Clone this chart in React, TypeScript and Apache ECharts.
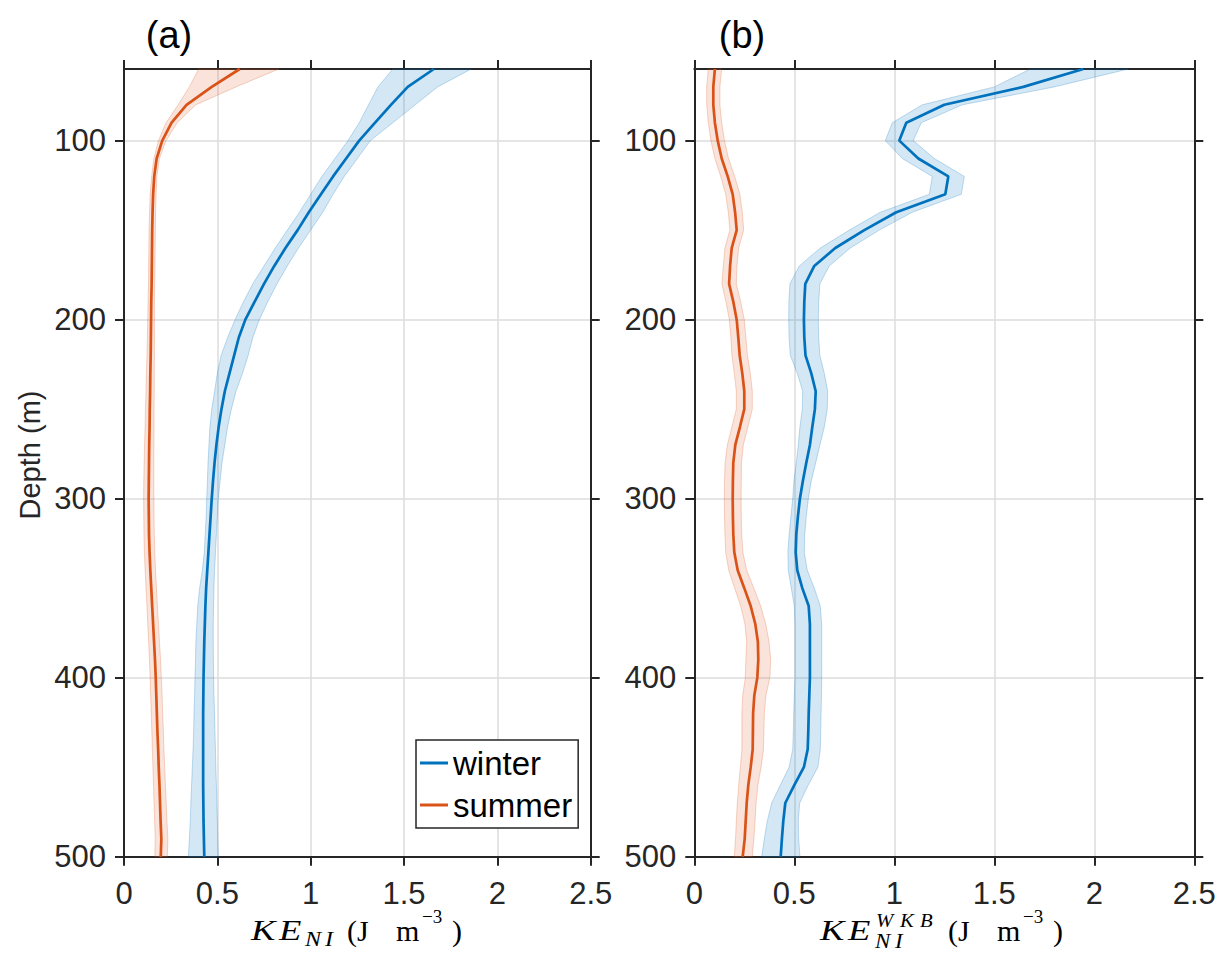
import React, { useEffect, useRef } from "react";
import * as echarts from "echarts";

const DEPTHS = [60, 70, 80, 90, 100, 110, 120, 130, 140, 150, 160, 170, 180, 190, 200, 210, 220, 230, 240, 250, 260, 270, 280, 290, 300, 310, 320, 330, 340, 350, 360, 370, 380, 390, 400, 410, 420, 430, 440, 450, 460, 470, 480, 490, 500];
const Y_TICKS = [100, 200, 300, 400, 500];

// Panel (a): KE_NI
const winterA = [1.66, 1.52, 1.43, 1.345, 1.26, 1.19, 1.12, 1.055, 0.99, 0.93, 0.865, 0.805, 0.75, 0.70, 0.65, 0.615, 0.59, 0.565, 0.54, 0.522, 0.507, 0.495, 0.485, 0.477, 0.47, 0.464, 0.458, 0.452, 0.446, 0.44, 0.436, 0.433, 0.43, 0.428, 0.426, 0.425, 0.424, 0.424, 0.424, 0.424, 0.424, 0.425, 0.426, 0.428, 0.43];
const winterALo = [1.44, 1.36, 1.31, 1.26, 1.20, 1.13, 1.06, 1.00, 0.94, 0.875, 0.81, 0.75, 0.69, 0.64, 0.595, 0.555, 0.52, 0.50, 0.485, 0.47, 0.46, 0.455, 0.45, 0.447, 0.443, 0.44, 0.435, 0.43, 0.42, 0.405, 0.395, 0.39, 0.385, 0.383, 0.38, 0.378, 0.375, 0.373, 0.37, 0.366, 0.362, 0.358, 0.355, 0.35, 0.345];
const winterAHi = [1.86, 1.68, 1.56, 1.44, 1.32, 1.25, 1.18, 1.12, 1.065, 1.0, 0.935, 0.875, 0.82, 0.77, 0.725, 0.69, 0.665, 0.635, 0.60, 0.575, 0.555, 0.54, 0.525, 0.515, 0.505, 0.5, 0.495, 0.49, 0.485, 0.482, 0.48, 0.478, 0.478, 0.479, 0.48, 0.482, 0.485, 0.487, 0.49, 0.492, 0.495, 0.497, 0.5, 0.502, 0.505];
const summerA = [0.62, 0.47, 0.335, 0.255, 0.205, 0.175, 0.162, 0.156, 0.153, 0.151, 0.15, 0.149, 0.148, 0.146, 0.145, 0.144, 0.143, 0.141, 0.14, 0.138, 0.137, 0.135, 0.134, 0.133, 0.132, 0.133, 0.134, 0.137, 0.141, 0.146, 0.151, 0.156, 0.161, 0.166, 0.17, 0.173, 0.176, 0.179, 0.183, 0.186, 0.19, 0.193, 0.196, 0.2, 0.197];
const summerALo = [0.40, 0.35, 0.29, 0.225, 0.185, 0.16, 0.148, 0.14, 0.137, 0.134, 0.133, 0.132, 0.131, 0.129, 0.127, 0.125, 0.123, 0.12, 0.118, 0.115, 0.113, 0.11, 0.108, 0.106, 0.105, 0.106, 0.107, 0.109, 0.113, 0.118, 0.123, 0.127, 0.132, 0.136, 0.14, 0.143, 0.146, 0.149, 0.152, 0.155, 0.158, 0.161, 0.164, 0.167, 0.165];
const summerAHi = [0.83, 0.60, 0.385, 0.285, 0.225, 0.19, 0.176, 0.172, 0.169, 0.168, 0.167, 0.166, 0.165, 0.163, 0.163, 0.163, 0.163, 0.162, 0.162, 0.161, 0.161, 0.16, 0.16, 0.16, 0.16, 0.161, 0.162, 0.165, 0.169, 0.174, 0.179, 0.185, 0.19, 0.196, 0.2, 0.204, 0.207, 0.211, 0.214, 0.218, 0.222, 0.226, 0.23, 0.235, 0.232];

// Panel (b): KE_NI^WKB
const winterB = [1.945, 1.645, 1.25, 1.06, 1.025, 1.12, 1.27, 1.255, 1.01, 0.85, 0.705, 0.60, 0.555, 0.55, 0.548, 0.55, 0.556, 0.585, 0.607, 0.603, 0.59, 0.578, 0.56, 0.543, 0.528, 0.518, 0.51, 0.507, 0.515, 0.54, 0.572, 0.578, 0.578, 0.578, 0.578, 0.575, 0.572, 0.57, 0.567, 0.548, 0.50, 0.455, 0.445, 0.438, 0.432];
const winterBLo = [1.68, 1.50, 1.14, 0.99, 0.955, 1.04, 1.19, 1.175, 0.93, 0.775, 0.63, 0.525, 0.478, 0.473, 0.472, 0.474, 0.48, 0.515, 0.542, 0.54, 0.528, 0.52, 0.51, 0.498, 0.492, 0.483, 0.474, 0.468, 0.47, 0.485, 0.5, 0.503, 0.503, 0.503, 0.503, 0.5, 0.497, 0.495, 0.492, 0.474, 0.43, 0.387, 0.365, 0.35, 0.337];
const winterBHi = [2.17, 1.80, 1.34, 1.135, 1.095, 1.2, 1.35, 1.335, 1.09, 0.925, 0.78, 0.675, 0.628, 0.622, 0.62, 0.622, 0.628, 0.65, 0.667, 0.665, 0.65, 0.628, 0.607, 0.585, 0.57, 0.56, 0.552, 0.55, 0.565, 0.6, 0.63, 0.637, 0.637, 0.637, 0.637, 0.636, 0.634, 0.632, 0.63, 0.618, 0.57, 0.527, 0.52, 0.522, 0.528];
const summerB = [0.103, 0.095, 0.095, 0.103, 0.117, 0.137, 0.167, 0.192, 0.204, 0.212, 0.187, 0.179, 0.174, 0.195, 0.212, 0.22, 0.227, 0.24, 0.25, 0.25, 0.228, 0.205, 0.195, 0.193, 0.192, 0.193, 0.195, 0.2, 0.217, 0.25, 0.282, 0.305, 0.318, 0.32, 0.315, 0.3, 0.294, 0.293, 0.292, 0.282, 0.27, 0.262, 0.257, 0.252, 0.242];
const summerBLo = [0.07, 0.062, 0.062, 0.07, 0.083, 0.103, 0.132, 0.157, 0.17, 0.178, 0.153, 0.145, 0.138, 0.158, 0.175, 0.183, 0.188, 0.2, 0.21, 0.21, 0.188, 0.165, 0.154, 0.151, 0.15, 0.151, 0.153, 0.157, 0.172, 0.202, 0.232, 0.253, 0.262, 0.258, 0.255, 0.242, 0.238, 0.238, 0.238, 0.23, 0.222, 0.215, 0.21, 0.206, 0.2];
const summerBHi = [0.137, 0.128, 0.128, 0.137, 0.151, 0.171, 0.202, 0.228, 0.24, 0.247, 0.222, 0.213, 0.21, 0.232, 0.25, 0.258, 0.266, 0.28, 0.29, 0.29, 0.268, 0.245, 0.236, 0.235, 0.234, 0.235, 0.237, 0.243, 0.262, 0.298, 0.332, 0.357, 0.374, 0.382, 0.378, 0.358, 0.35, 0.348, 0.346, 0.334, 0.318, 0.309, 0.304, 0.298, 0.29];

const BLUE = "#0072BD";
const ORANGE = "#D95319";
const BLUE_FILL = "rgba(0,114,189,0.17)";
const BLUE_EDGE = "rgba(0,114,189,0.24)";
const ORANGE_FILL = "rgba(217,83,25,0.16)";
const ORANGE_EDGE = "rgba(217,83,25,0.24)";
const AXIS_COLOR = "#262626";
const GRID_COLOR = "#dcdcdc";
const SANS = "'Liberation Sans', Arial, Helvetica, sans-serif";
const SERIF = "'Liberation Serif', 'Times New Roman', serif";

function band(name: string, lo: number[], hi: number[], xi: number, yi: number, fill: string, stroke: string) {
  return {
    type: "custom",
    name,
    xAxisIndex: xi,
    yAxisIndex: yi,
    silent: true,
    z: 2,
    data: DEPTHS.map((d, i) => [lo[i], hi[i], d]),
    encode: { x: [0, 1], y: 2 },
    renderItem: (params: any, api: any) => {
      if (params.dataIndex !== 0) return null;
      const pts: number[][] = [];
      for (let i = 0; i < DEPTHS.length; i++) pts.push(api.coord([lo[i], DEPTHS[i]]));
      for (let i = DEPTHS.length - 1; i >= 0; i--) pts.push(api.coord([hi[i], DEPTHS[i]]));
      return { type: "polygon", shape: { points: pts }, style: { fill, stroke, lineWidth: 1 } };
    },
  };
}

function line(name: string, vals: number[], xi: number, yi: number, color: string) {
  return {
    type: "line",
    name,
    xAxisIndex: xi,
    yAxisIndex: yi,
    data: DEPTHS.map((d, i) => [vals[i], d]),
    symbol: "none",
    showSymbol: false,
    z: 3,
    color,
    lineStyle: { color, width: 2.7 },
  };
}

function xAxis(grid: number, pos: "top" | "bottom") {
  return {
    type: "value",
    gridIndex: grid,
    position: pos,
    min: 0,
    max: 2.5,
    interval: 0.5,
    axisLine: { show: true, onZero: false, lineStyle: { color: AXIS_COLOR, width: 2 } },
    axisTick: { show: true, inside: false, length: 9, lineStyle: { color: AXIS_COLOR, width: 2 } },
    axisLabel: {
      show: pos === "bottom",
      margin: 21,
      fontSize: 31,
      color: AXIS_COLOR,
      fontFamily: SANS,
    },
    splitLine: { show: pos === "bottom", lineStyle: { color: GRID_COLOR, width: 1.5 } },
  };
}

function yAxis(grid: number, pos: "left" | "right") {
  return {
    type: "value",
    gridIndex: grid,
    position: pos,
    inverse: true,
    min: 60,
    max: 500,
    splitNumber: 5,
    axisLine: { show: true, onZero: false, lineStyle: { color: AXIS_COLOR, width: 2 } },
    axisTick: { show: true, inside: false, length: 9, customValues: Y_TICKS, lineStyle: { color: AXIS_COLOR, width: 2 } },
    axisLabel: {
      show: pos === "left",
      customValues: Y_TICKS,
      margin: 18,
      fontSize: 31,
      color: AXIS_COLOR,
      fontFamily: SANS,
    },
    splitLine: { show: pos === "left", lineStyle: { color: GRID_COLOR, width: 1.5 } },
  };
}

function txt(text: string, x: number, y: number, size: number, family: string, italic = false, align = "left", sx = 1) {
  return {
    type: "text",
    x,
    y,
    scaleX: sx,
    silent: true,
    style: {
      text,
      fontSize: size,
      fontFamily: family,
      fontStyle: italic ? "italic" : "normal",
      fill: "#000",
      align,
      verticalAlign: "middle",
    },
  };
}

export default function App() {
  const ref = useRef<HTMLDivElement>(null);
  useEffect(() => {
    if (!ref.current) return;
    const chart = echarts.init(ref.current, undefined, { renderer: "svg" });
    const option: any = {
      animation: false,
      backgroundColor: "#fff",
      grid: [
        { left: 124, top: 69, width: 466.7, height: 787.7 },
        { left: 694.3, top: 69, width: 500, height: 787.7 },
      ],
      xAxis: [xAxis(0, "bottom"), xAxis(0, "top"), xAxis(1, "bottom"), xAxis(1, "top")],
      yAxis: [yAxis(0, "left"), yAxis(0, "right"), yAxis(1, "left"), yAxis(1, "right")],
      legend: {
        data: ["winter", "summer"],
        left: 416,
        top: 740,
        orient: "vertical",
        icon: "rect",
        itemWidth: 28,
        itemHeight: 3,
        itemGap: 4,
        padding: [4, 6, 4, 4],
        borderColor: AXIS_COLOR,
        borderWidth: 1.5,
        borderRadius: 0,
        backgroundColor: "#fff",
        selectedMode: false,
        textStyle: { fontSize: 33, color: "#000", fontFamily: SANS, lineHeight: 38 },
      },
      series: [
        band("bandWinterA", winterALo, winterAHi, 0, 0, BLUE_FILL, BLUE_EDGE),
        band("bandSummerA", summerALo, summerAHi, 0, 0, ORANGE_FILL, ORANGE_EDGE),
        line("winter", winterA, 0, 0, BLUE),
        line("summer", summerA, 0, 0, ORANGE),
        band("bandWinterB", winterBLo, winterBHi, 2, 2, BLUE_FILL, BLUE_EDGE),
        band("bandSummerB", summerBLo, summerBHi, 2, 2, ORANGE_FILL, ORANGE_EDGE),
        line("winter", winterB, 2, 2, BLUE),
        line("summer", summerB, 2, 2, ORANGE),
      ],
      graphic: [
        txt("(a)", 169, 35, 38, SANS, false, "center"),
        txt("(b)", 742, 35, 38, SANS, false, "center"),
        {
          type: "text",
          x: 30,
          y: 455,
          rotation: Math.PI / 2,
          silent: true,
          style: { text: "Depth (m)", fontSize: 29, fontFamily: SANS, fill: AXIS_COLOR, align: "center", verticalAlign: "middle" },
        },
        // x label (a): KE_NI (J m^-3)
        txt("K", 251, 930, 30, SERIF, true, "left", 1.22),
        txt("E", 279, 930, 30, SERIF, true, "left", 1.22),
        txt("N", 305, 939, 21, SERIF, true, "left", 1.15),
        txt("I", 325, 939, 21, SERIF, true, "left", 1.15),
        txt("(J", 347, 930, 30, SERIF),
        txt("m", 396, 930, 30, SERIF),
        txt("\u22123", 422, 916, 19, SERIF),
        txt(")", 452, 930, 30, SERIF),
        // x label (b): KE_NI^WKB (J m^-3)
        txt("K", 820, 930, 30, SERIF, true, "left", 1.22),
        txt("E", 848, 930, 30, SERIF, true, "left", 1.22),
        txt("W", 876, 921, 18, SERIF, true, "left", 1.15),
        txt("K", 900, 921, 18, SERIF, true, "left", 1.15),
        txt("B", 920, 921, 18, SERIF, true, "left", 1.15),
        txt("N", 875, 942, 20, SERIF, true, "left", 1.15),
        txt("I", 895, 942, 20, SERIF, true, "left", 1.15),
        txt("(J", 948, 930, 30, SERIF),
        txt("m", 997, 930, 30, SERIF),
        txt("\u22123", 1023, 916, 19, SERIF),
        txt(")", 1053, 930, 30, SERIF),
      ],
    };
    chart.setOption(option);
    return () => chart.dispose();
  }, []);
  return (
    <div
      ref={ref}
      style={{ position: "fixed", left: 0, top: 0, width: 1226, height: 954, background: "#fff" }}
    />
  );
}
